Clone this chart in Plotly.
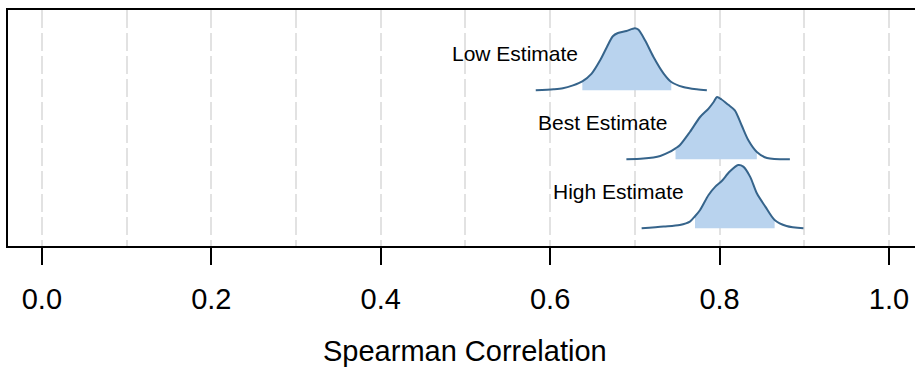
import plotly.graph_objects as go

# ---------------- data ----------------
ridge_names = ["High Estimate", "Best Estimate", "Low Estimate"]
ridge_baselines = [1, 2, 3]

high_x = [0.708, 0.734, 0.753, 0.765, 0.771, 0.777, 0.787, 0.795, 0.802, 0.812,
          0.822, 0.828, 0.836, 0.844, 0.854, 0.865, 0.879, 0.899]
high_d = [0.000, 0.025, 0.048, 0.097, 0.174, 0.265, 0.483, 0.604, 0.677, 0.822,
          0.917, 0.894, 0.749, 0.507, 0.314, 0.120, 0.033, 0.000]
high_interval = [0.771, 0.865]

best_x = [0.690, 0.710, 0.730, 0.741, 0.748, 0.753, 0.765, 0.777, 0.787, 0.793,
          0.797, 0.802, 0.810, 0.818, 0.826, 0.834, 0.844, 0.856, 0.883]
best_d = [0.000, 0.010, 0.048, 0.106, 0.159, 0.203, 0.396, 0.613, 0.735, 0.830,
          0.903, 0.870, 0.793, 0.710, 0.493, 0.275, 0.106, 0.019, 0.000]
best_interval = [0.748, 0.844]

low_x = [0.583, 0.604, 0.615, 0.627, 0.638, 0.649, 0.659, 0.667, 0.674, 0.680,
         0.690, 0.700, 0.704, 0.712, 0.722, 0.734, 0.743, 0.757, 0.773, 0.785]
low_d = [0.000, 0.014, 0.029, 0.072, 0.130, 0.242, 0.435, 0.628, 0.783, 0.830,
         0.859, 0.899, 0.880, 0.725, 0.483, 0.242, 0.120, 0.048, 0.014, 0.000]
low_interval = [0.638, 0.743]

x_ticks = [0.0, 0.2, 0.4, 0.6, 0.8, 1.0]
x_title = "Spearman Correlation"

# ---------------- styling ----------------
FONT = "Liberation Sans, Arial, Helvetica, sans-serif"
LINE_COLOR = "#36648b"
FILL_COLOR = "#b9d3ee"
GRID_COLOR = "#e2e2e2"
LABEL_OFFSET = 0.052

series = [
    (high_x, high_d, high_interval),
    (best_x, best_d, best_interval),
    (low_x, low_d, low_interval),
]

fig = go.Figure()

for name, base, (xs, ds, (lo, hi)) in zip(ridge_names, ridge_baselines, series):
    # shaded interval: baseline then curve filled to it
    sub = [(x, d) for x, d in zip(xs, ds) if lo - 1e-9 <= x <= hi + 1e-9]
    fig.add_trace(go.Scatter(
        x=[sub[0][0], sub[-1][0]], y=[base, base], mode="lines",
        line=dict(width=0, color=FILL_COLOR), hoverinfo="skip", showlegend=False))
    fig.add_trace(go.Scatter(
        x=[p[0] for p in sub], y=[base + p[1] for p in sub], mode="lines",
        line=dict(width=0, color=FILL_COLOR, shape="spline", smoothing=0.8),
        fill="tonexty", fillcolor=FILL_COLOR, hoverinfo="skip", showlegend=False))
    # density outline
    fig.add_trace(go.Scatter(
        x=xs, y=[base + d for d in ds], mode="lines",
        line=dict(width=2, color=LINE_COLOR, shape="spline", smoothing=0.8),
        name=name, showlegend=False))
    fig.add_annotation(
        x=xs[0] + LABEL_OFFSET, y=base + 0.53, xref="x", yref="y",
        text=name, showarrow=False, xanchor="right", yanchor="middle",
        font=dict(family=FONT, size=21, color="black"))

fig.add_annotation(
    x=0.5, y=-0.4436, xref="x", yref="paper", text=x_title, showarrow=False,
    xanchor="center", yanchor="middle",
    font=dict(family=FONT, size=29, color="black"))

fig.update_layout(
    width=915, height=371,
    margin=dict(l=8, r=0, t=10, b=125),
    paper_bgcolor="white", plot_bgcolor="white",
    font=dict(family=FONT, color="black"),
    xaxis=dict(
        range=[-0.04, 1.0307],
        tickmode="array", tickvals=x_ticks,
        ticktext=[f"{v:.1f}" for v in x_ticks],
        ticks="outside", ticklen=17, tickwidth=1.5, tickcolor="black",
        tickfont=dict(family=FONT, size=29, color="black"),
        ticklabelstandoff=9,
        showline=True, linecolor="black", linewidth=2, mirror=True,
        showgrid=True, gridcolor=GRID_COLOR, gridwidth=1.5, griddash="18px,5px",
        minor=dict(tickvals=[0.1, 0.3, 0.5, 0.7, 0.9], showgrid=True,
                   gridcolor=GRID_COLOR, gridwidth=1.5, griddash="18px,5px",
                   ticks=""),
        zeroline=False,
    ),
    yaxis=dict(
        range=[0.743, 4.164],
        showticklabels=False, ticks="", showgrid=False, zeroline=False,
        showline=True, linecolor="black", linewidth=2, mirror=False,
    ),
)

fig.write_html("out.html")
